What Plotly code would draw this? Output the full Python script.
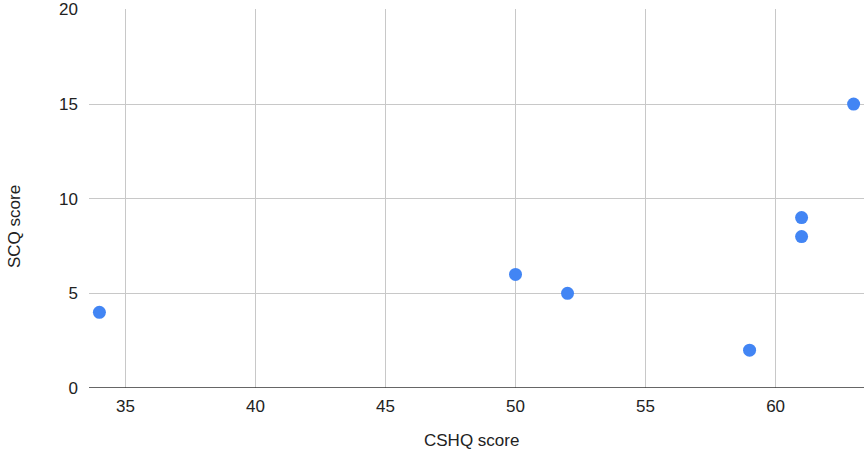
import plotly.graph_objects as go

cshq = [34, 50, 52, 59, 61, 61, 63]
scq = [4, 6, 5, 2, 9, 8, 15]
x_ticks = [35, 40, 45, 50, 55, 60]
y_ticks = [0, 5, 10, 15, 20]
x_title = "CSHQ score"
y_title = "SCQ score"

font = dict(family="Liberation Sans, Arial, sans-serif", size=17, color="#222222")
title_font = dict(family="Liberation Sans, Arial, sans-serif", size=17, color="#222222")

fig = go.Figure()
fig.add_trace(go.Scatter(
    x=cshq, y=scq, mode="markers",
    marker=dict(color="#4285F4", size=13, line=dict(width=0)),
    showlegend=False, cliponaxis=False,
))

fig.update_layout(
    width=867, height=464,
    margin=dict(l=89, r=3, t=9, b=76, autoexpand=False),
    paper_bgcolor="white", plot_bgcolor="white",
    font=font,
    xaxis=dict(
        range=[33.6, 63.4], tickvals=x_ticks, ticktext=[str(v) for v in x_ticks],
        showgrid=True, gridcolor="#c8c8c8", gridwidth=1.2,
        zeroline=False, showline=False, ticks="", automargin=False,
        ticklabelstandoff=6,
    ),
    yaxis=dict(
        range=[0, 20.02], tickvals=y_ticks, ticktext=[str(v) for v in y_ticks],
        showgrid=True, gridcolor="#c8c8c8", gridwidth=1.2,
        zeroline=False, showline=False, ticks="", automargin=False,
        ticklabelstandoff=10,
    ),
    shapes=[dict(type="line", xref="paper", yref="y", x0=0, x1=1, y0=0, y1=0,
                 line=dict(color="#333333", width=1.3))],
    annotations=[
        dict(text=x_title, xref="paper", yref="paper", x=0.493, y=-0.138,
             xanchor="center", yanchor="middle", showarrow=False, font=title_font),
        dict(text=y_title, xref="paper", yref="paper", x=-0.097, y=0.427,
             xanchor="center", yanchor="middle", showarrow=False, textangle=-90,
             font=title_font),
    ],
)

fig.write_html("out.html", config={"displayModeBar": False},
               post_script="document.body.style.margin='0';document.body.style.padding='0';")
